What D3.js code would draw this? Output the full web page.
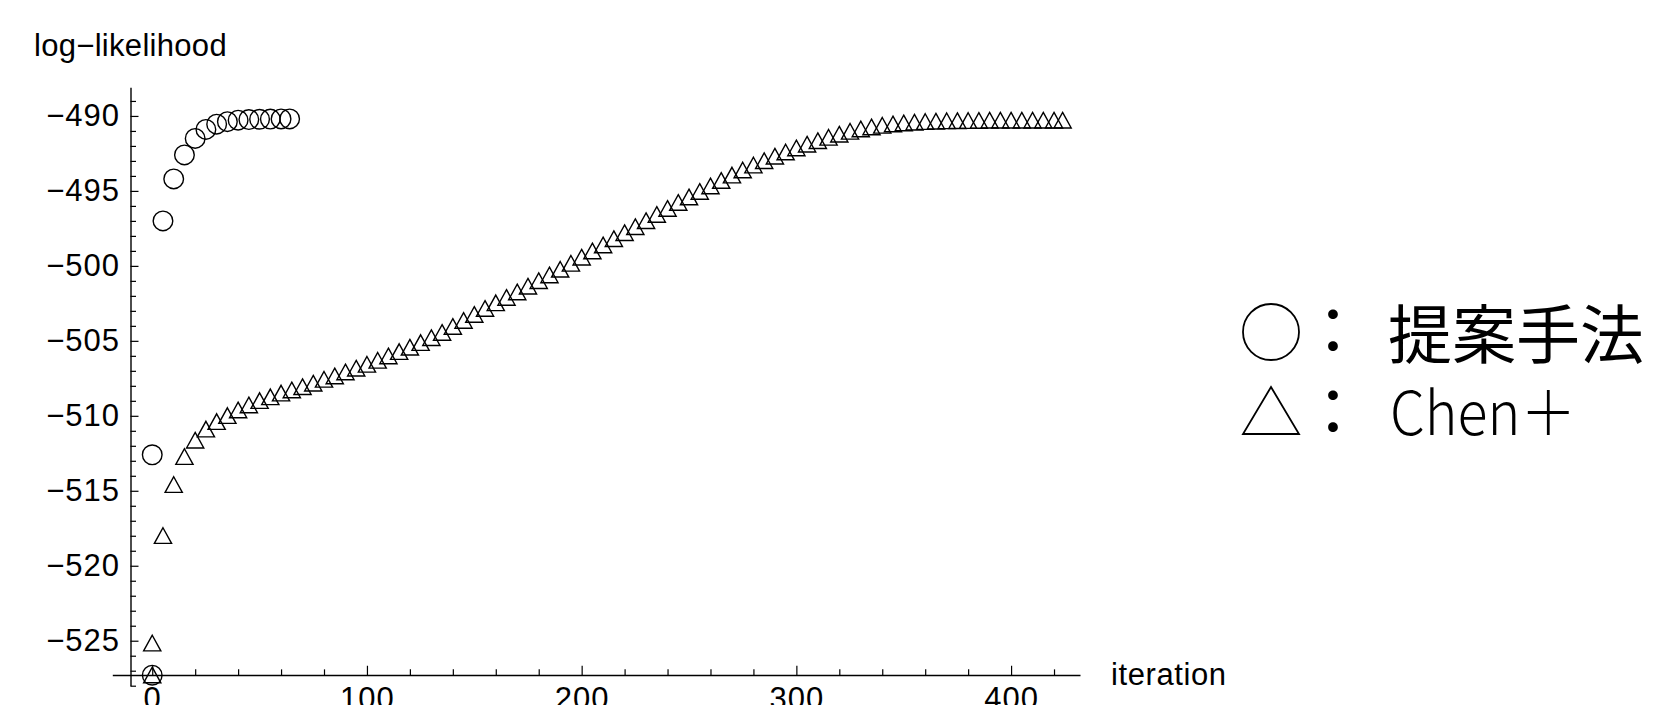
<!DOCTYPE html>
<html>
<head>
<meta charset="utf-8">
<script src="https://cdn.jsdelivr.net/npm/d3@7"></script>
<style>
  html, body { margin: 0; padding: 0; background: #fff; }
  svg { display: block; }
</style>
</head>
<body>
<svg id="chart" width="1675" height="705"></svg>
<script>
// ---------- data ----------
const circleIter = [0, 0, 5, 10, 15, 20, 25, 30, 35, 40, 45, 50, 55, 60, 64];
const circleLL = [-527.3, -512.6, -497.0, -494.2, -492.6, -491.5, -490.9, -490.55, -490.38, -490.28, -490.24, -490.22, -490.21, -490.2, -490.2];

const triIter = [0, 0, 5, 10, 15, 20, 25, 30, 35, 40, 45, 50, 55, 60, 65, 70, 75, 80, 85, 90, 95,
  100, 105, 110, 115, 120, 125, 130, 135, 140, 145, 150, 155, 160, 165, 170, 175, 180, 185, 190, 195,
  200, 205, 210, 215, 220, 225, 230, 235, 240, 245, 250, 255, 260, 265, 270, 275, 280, 285, 290, 295,
  300, 305, 310, 315, 320, 325, 330, 335, 340, 345, 350, 355, 360, 365, 370, 375, 380, 385, 390, 395,
  400, 405, 410, 415, 420, 424];
const triLL = [-527.3, -525.17, -518.0, -514.6, -512.73, -511.64, -510.9, -510.4, -510.0, -509.62, -509.29, -509.0, -508.75, -508.5, -508.29, -508.07, -507.84, -507.58, -507.35, -507.09, -506.84,
  -506.58, -506.31, -506.02, -505.73, -505.44, -505.13, -504.8, -504.45, -504.05, -503.65, -503.25, -502.85, -502.48, -502.12, -501.75, -501.37, -501.0, -500.62, -500.24, -499.84,
  -499.43, -499.02, -498.62, -498.2, -497.8, -497.4, -497.0, -496.58, -496.18, -495.78, -495.42, -495.05, -494.68, -494.32, -493.96, -493.62, -493.29, -493.0, -492.7, -492.42,
  -492.15, -491.9, -491.66, -491.44, -491.23, -491.04, -490.88, -490.75, -490.64, -490.55, -490.48, -490.43, -490.39, -490.36, -490.34, -490.33, -490.32, -490.31, -490.3, -490.3,
  -490.3, -490.3, -490.3, -490.3, -490.3, -490.3];

const xMajorTicks = [0, 100, 200, 300, 400];
const xMinorTicks = [20, 40, 60, 80, 120, 140, 160, 180, 220, 240, 260, 280, 320, 340, 360, 380, 420];
const yMajorTicks = [-525, -520, -515, -510, -505, -500, -495, -490];
const yMinorTicks = [-528, -527, -526, -524, -523, -522, -521, -519, -518, -517, -516, -514, -513, -512, -511,
  -509, -508, -507, -506, -504, -503, -502, -501, -499, -498, -497, -496, -494, -493, -492, -491, -489];

const xLabel = "iteration";
const yLabel = "log\u2212likelihood";
const legendItems = [
  { sym: "circle", text: "提案手法" },
  { sym: "triangle", text: "Chen\uFF0B" }
];

// ---------- layout ----------
const svg = d3.select("#chart");
const FONT = "'Liberation Sans', Arial, sans-serif";
const CJK = "'Noto Sans CJK JP', 'Noto Sans CJK SC', sans-serif";

const x = d3.scaleLinear().domain([-18.6, 432.1]).range([112.3, 1080]);
const y = d3.scaleLinear().domain([-528.0, -488.09]).range([685.7, 87.3]);
const xAxisY = y(-527.29);
const yAxisX = 130.5;

// y axis
const gy = svg.append("g").attr("transform", `translate(${yAxisX},0)`);
gy.call(d3.axisLeft(y).tickValues(yMajorTicks).tickSizeInner(-8).tickSizeOuter(0).tickPadding(10.5));
const gyMinor = svg.append("g").attr("transform", `translate(${yAxisX},0)`);
gyMinor.call(d3.axisLeft(y).tickValues(yMinorTicks).tickSizeInner(-5.5).tickSizeOuter(0).tickFormat(""));
gyMinor.select(".domain").remove();

// x axis
const gx = svg.append("g").attr("transform", `translate(0,${xAxisY})`);
gx.call(d3.axisBottom(x).tickValues(xMajorTicks).tickSizeInner(-9.3).tickSizeOuter(0).tickPadding(12).tickFormat(d3.format("d")));
const gxMinor = svg.append("g").attr("transform", `translate(0,${xAxisY})`);
gxMinor.call(d3.axisBottom(x).tickValues(xMinorTicks).tickSizeInner(-5.7).tickSizeOuter(0).tickFormat(""));
gxMinor.select(".domain").remove();

svg.selectAll(".domain").attr("stroke", "#000").attr("stroke-width", 1.4);
svg.selectAll(".tick line").attr("stroke", "#000").attr("stroke-width", 1.2);
svg.selectAll(".tick text").attr("font-family", FONT).attr("font-size", 31)
  .attr("letter-spacing", 1).attr("fill", "#000");

// axis labels
svg.append("text").attr("x", 34).attr("y", 55.5)
  .attr("font-family", FONT).attr("font-size", 31).attr("letter-spacing", 0.3).attr("fill", "#000").text(yLabel);
svg.append("text").attr("x", 1111).attr("y", 685)
  .attr("font-family", FONT).attr("font-size", 31).attr("letter-spacing", 0.6).attr("fill", "#000").text(xLabel);

// markers
const triPath = "M0,-8 L8.6,7.6 L-8.6,7.6 Z";
const circles = circleIter.map((d, i) => ({ it: d, v: circleLL[i] }));
const tris = triIter.map((d, i) => ({ it: d, v: triLL[i] }));

svg.append("g").selectAll("path").data(tris).join("path")
  .attr("d", triPath)
  .attr("transform", d => `translate(${x(d.it)},${y(d.v)})`)
  .attr("fill", "none").attr("stroke", "#000").attr("stroke-width", 1.4);

svg.append("g").selectAll("circle").data(circles).join("circle")
  .attr("cx", d => x(d.it)).attr("cy", d => y(d.v)).attr("r", 9.8)
  .attr("fill", "none").attr("stroke", "#000").attr("stroke-width", 1.4);

// legend
const leg = svg.append("g");
leg.append("circle").attr("cx", 1271).attr("cy", 332).attr("r", 28)
  .attr("fill", "none").attr("stroke", "#000").attr("stroke-width", 1.8);
leg.append("path").attr("d", "M1271,387 L1299,434 L1243,434 Z")
  .attr("fill", "none").attr("stroke", "#000").attr("stroke-width", 1.8);
[332, 413].forEach(cy => {
  leg.append("text").attr("x", 1333).attr("y", cy + 22).attr("text-anchor", "middle")
    .attr("font-family", CJK).attr("font-size", 64).attr("fill", "#000").text("\uFF1A");
});
leg.append("text").attr("x", 1388).attr("y", 358)
  .attr("font-family", CJK).attr("font-size", 64).attr("fill", "#000").text(legendItems[0].text);
leg.append("text").attr("x", 1390).attr("y", 435)
  .attr("font-family", CJK).attr("font-size", 60).attr("font-weight", 300)
  .attr("textLength", 186).attr("lengthAdjust", "spacingAndGlyphs")
  .attr("fill", "#000").text(legendItems[1].text);
</script>
</body>
</html>
